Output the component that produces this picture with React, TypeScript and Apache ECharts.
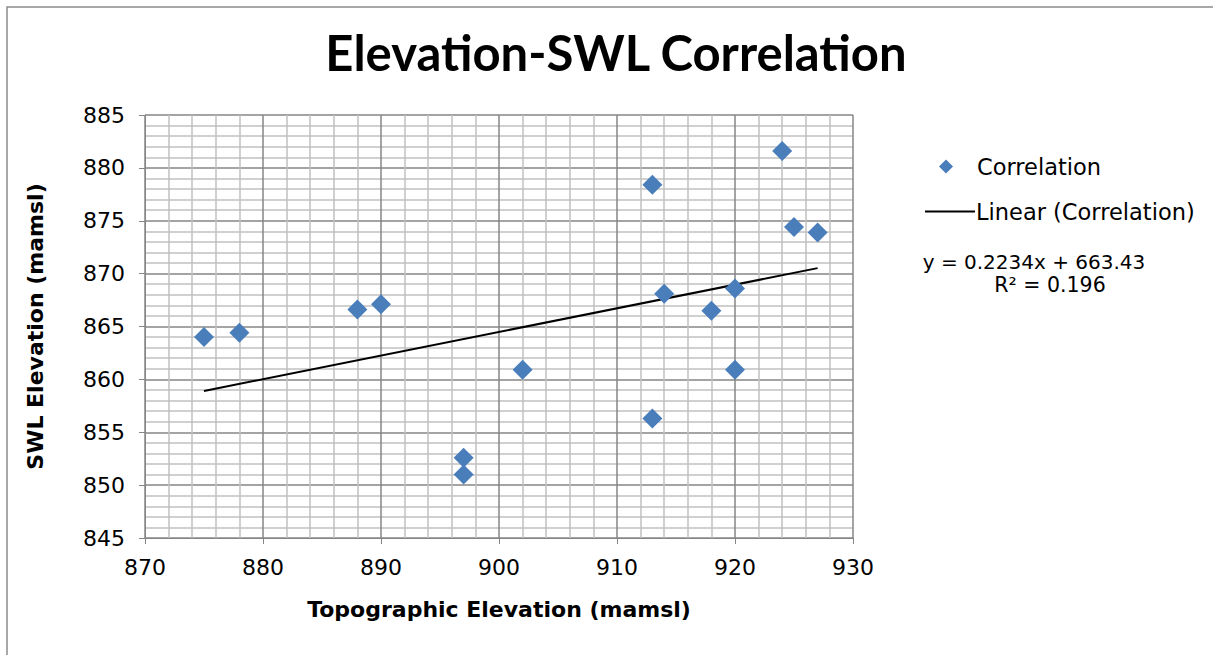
import React, { useEffect, useRef } from "react";
import * as echarts from "echarts";

const topoElevation = [875, 878, 888, 890, 897, 897, 902, 913, 913, 914, 918, 920, 920, 924, 925, 927];
const swlElevation = [864.0, 864.4, 866.6, 867.1, 852.6, 851.0, 860.9, 878.4, 856.3, 868.1, 866.5, 868.6, 860.9, 881.6, 874.4, 873.9];
const trendX = [875, 927];
const trendY = [858.9, 870.52];
const equationLines = ["y = 0.2234x + 663.43", "R² = 0.196"];

const FONT = "'DejaVu Sans', sans-serif";
const TITLE_FONT = "Lato, sans-serif";

export default function App() {
  const ref = useRef<HTMLDivElement>(null);
  useEffect(() => {
    if (!ref.current) return;
    const chart = echarts.init(ref.current, undefined, { renderer: "svg" });
    const scatterData = topoElevation.map((x, i) => [x, swlElevation[i]]);
    const trendData = trendX.map((x, i) => [x, trendY[i]]);
    chart.setOption({
      animation: false,
      backgroundColor: "#ffffff",
      textStyle: { fontFamily: FONT },
      title: {
        text: "Elevation-SWL Correlation",
        left: 611,
        textAlign: "center",
        top: 22,
        textStyle: { fontFamily: TITLE_FONT, fontSize: 49, fontWeight: "bold", color: "#000" },
      },
      grid: { left: 145, top: 115, width: 708, height: 423 },
      legend: [
        {
          orient: "vertical",
          left: 934,
          top: 150,
          itemWidth: 14,
          itemHeight: 14,
          itemStyle: { opacity: 1 },
          textStyle: { fontFamily: FONT, fontSize: 22.5, color: "#000", padding: [0, 0, 0, 19] },
          data: [{ name: "Correlation", icon: "diamond", itemStyle: { color: "#4a7ebb", opacity: 1 } }],
        },
        {
          orient: "vertical",
          left: 920,
          top: 195,
          itemWidth: 50,
          itemHeight: 2,
          textStyle: { fontFamily: FONT, fontSize: 22.5, color: "#000", padding: [0, 0, 0, -4] },
          data: [{ name: "Linear (Correlation)", icon: "rect", itemStyle: { color: "#000" } }],
        },
      ],
      xAxis: {
        type: "value",
        min: 870,
        max: 930,
        interval: 10,
        name: "Topographic Elevation (mamsl)",
        nameLocation: "middle",
        nameGap: 60,
        nameTextStyle: { fontFamily: FONT, fontSize: 22, fontWeight: "bold", color: "#000" },
        axisLine: { show: true, lineStyle: { color: "#868686", width: 1 } },
        axisTick: { show: true, length: 6, lineStyle: { color: "#868686" } },
        axisLabel: { fontFamily: FONT, fontSize: 22, color: "#000", margin: 18 },
        splitLine: { show: true, lineStyle: { color: "#868686", width: 1.5 } },
        minorTick: { show: false, splitNumber: 5 },
        minorSplitLine: { show: true, lineStyle: { color: "#c0c0c0", width: 1.5 } },
      },
      yAxis: {
        type: "value",
        min: 845,
        max: 885,
        interval: 5,
        name: "SWL Elevation (mamsl)",
        nameLocation: "middle",
        nameRotate: 90,
        nameGap: 99,
        nameTextStyle: { fontFamily: FONT, fontSize: 22, fontWeight: "bold", color: "#000" },
        axisLine: { show: true, lineStyle: { color: "#868686", width: 1 } },
        axisTick: { show: true, length: 6, lineStyle: { color: "#868686" } },
        axisLabel: { fontFamily: FONT, fontSize: 22, color: "#000", margin: 20 },
        splitLine: { show: true, lineStyle: { color: "#868686", width: 1.5 } },
        minorTick: { show: false, splitNumber: 5 },
        minorSplitLine: { show: true, lineStyle: { color: "#c0c0c0", width: 1.5 } },
      },
      series: [
        {
          name: "Correlation",
          type: "scatter",
          symbol: "diamond",
          symbolSize: 20,
          itemStyle: { color: "#4a7ebb", opacity: 1 },
          data: scatterData,
          z: 3,
        },
        {
          name: "Linear (Correlation)",
          type: "line",
          symbol: "none",
          showSymbol: false,
          lineStyle: { color: "#000", width: 2 },
          itemStyle: { color: "#000" },
          data: trendData,
          z: 2,
        },
      ],
      graphic: [
        {
          type: "rect",
          shape: { x: 7, y: 7, width: 1230, height: 680 },
          style: { fill: "none", stroke: "#8c8c8c", lineWidth: 1.5 },
          silent: true,
        },
        {
          type: "text",
          x: 1034,
          y: 262,
          style: {
            text: equationLines[0],
            fontFamily: FONT,
            fontSize: 20,
            fill: "#000",
            align: "center",
            verticalAlign: "middle",
          },
        },
        {
          type: "text",
          x: 1050,
          y: 285,
          style: {
            text: equationLines[1],
            fontFamily: FONT,
            fontSize: 20.5,
            fill: "#000",
            align: "center",
            verticalAlign: "middle",
          },
        },
      ],
    });
    return () => chart.dispose();
  }, []);
  return (
    <div
      ref={ref}
      style={{ position: "absolute", left: 0, top: 0, width: 1213, height: 655 }}
    />
  );
}
